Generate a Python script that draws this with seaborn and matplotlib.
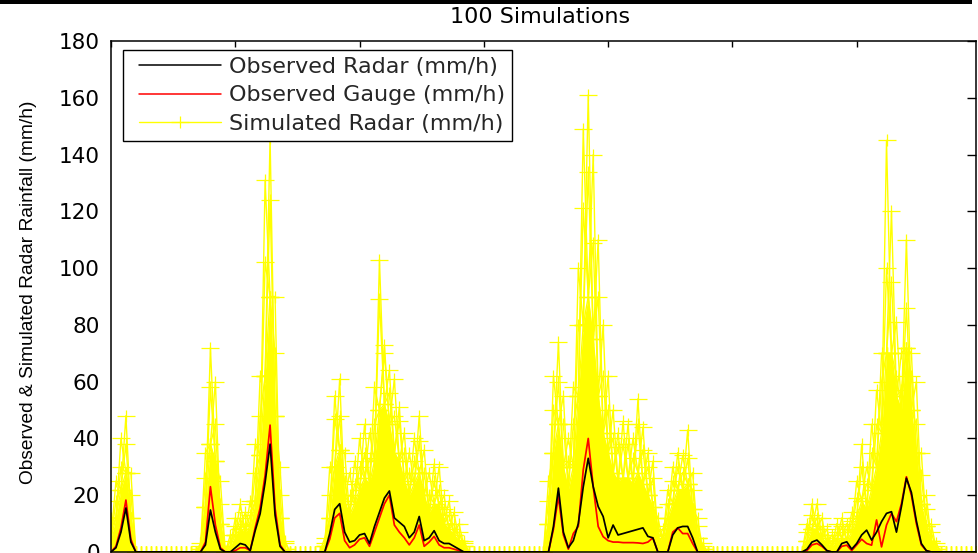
import numpy as np
import pandas as pd
import matplotlib
matplotlib.use("Agg")
import matplotlib.pyplot as plt
from matplotlib.path import Path
from matplotlib.lines import Line2D
from matplotlib.patches import Rectangle
from matplotlib.legend_handler import HandlerLine2D
import seaborn as sns

# ---------------------------------------------------------------- data
n_hours = 175
hours = np.arange(n_hours)

# first hour of each rainy period; every list below holds one segment per period
event_start = [0, 18, 24, 43, 88, 139]

radar_obs = [
    [0, 1.5, 7, 15.5, 3.5, 0],
    [0, 2.5, 14.8, 7, 1, 0],
    [0, 1.5, 3, 2.5, 0.5, 7.5, 13.5, 24.5, 38, 13, 2, 0],
    [0, 6.5, 15, 17, 7, 3.5, 4, 6, 6.5, 3, 9, 14, 19, 21.5, 12, 10.5, 9, 5, 7,
     12.5, 4, 5, 7.5, 4, 3, 3, 2, 1, 0],
    [0, 9, 22.5, 7, 1.5, 4, 10, 23, 33, 23, 16, 12.5, 5, 9.5, 6, 6.5, 7, 7.5, 8,
     8.5, 5.5, 5, 0, 0, 0, 6, 8.5, 9, 9, 5, 0, 0],
    [0, 1, 3.5, 4.2, 2.5, 0.5, 0, 0, 3, 3.6, 1, 3, 6, 7.7, 4.2, 7, 10.7, 13.6,
     14.2, 7, 16, 26, 21, 11, 3, 0.5, 0, 0],
]

gauge_obs = [
    [0, 2, 8.5, 18.3, 4.5, 0],
    [0, 3.5, 23, 9.5, 1.5, 0],
    [0, 0.5, 1.5, 1.5, 0.5, 8.5, 15.5, 27, 44.7, 15.5, 2.5, 0],
    [0, 4.5, 12, 13.6, 4, 1.5, 2.5, 4.5, 5, 2, 7, 12, 17, 20, 9.5, 7, 5, 2.5, 5,
     9.5, 2, 3.5, 5.5, 2.5, 1.5, 1.5, 1, 0.5, 0],
    [0, 8, 19.5, 6, 1, 6.5, 9, 29, 40, 23, 9, 5.4, 4, 3.5, 3.5, 3.3, 3.3, 3.3,
     3.2, 3, 3.5, 5, 0, 0, 0, 7, 8.5, 6.5, 6.5, 3, 0, 0],
    [0, 0.5, 2.5, 3, 2, 0.5, 0, 0, 2, 2.4, 0.5, 2.5, 4.5, 3, 2.4, 11.3, 1.8, 9.5,
     13.6, 10.7, 17, 26.5, 20, 10, 2.5, 0.5, 0, 0],
]

# simulated radar ensemble: highest, second tier and bulk level per hour
sim_peak = [
    [12, 25, 40, 48, 28, 0],
    [3, 35, 72, 60, 25, 0],
    [6, 12, 17, 14, 18, 38, 62, 131, 146, 90, 30, 4],
    [5, 30, 55, 61, 35, 28, 32, 40, 45, 42, 58, 103, 73, 64, 61, 51, 42, 35, 40,
     48, 36, 28, 31, 30, 20, 18, 14, 10, 4],
    [25, 62, 74, 55, 40, 58, 100, 149, 161, 140, 110, 80, 62, 50, 42, 46, 45, 40,
     54, 44, 35, 32, 12, 8, 22, 30, 35, 34, 43, 28, 12, 3],
    [0, 10, 17, 17, 12, 8, 6, 10, 12, 10, 14, 25, 38, 30, 45, 57, 70, 145, 120,
     81, 70, 110, 70, 60, 35, 20, 10, 3],
]

sim_high = [
    [8, 18, 30, 38, 20, 0],
    [2, 26, 58, 45, 17, 0],
    [4, 9, 12, 10, 13, 28, 48, 102, 124, 70, 20, 3],
    [3, 20, 47, 48, 25, 20, 24, 30, 35, 33, 45, 89, 70, 56, 48, 46, 35, 28, 32,
     39, 28, 20, 25, 22, 15, 13, 10, 7, 3],
    [18, 50, 60, 45, 32, 45, 80, 121, 134, 109, 90, 62, 50, 40, 37, 38, 38, 33,
     45, 36, 30, 26, 9, 6, 17, 25, 30, 28, 33, 22, 9, 2],
    [0, 7, 13, 12, 9, 6, 4, 7, 9, 8, 11, 19, 30, 24, 35, 45, 60, 100, 95, 62, 57,
     86, 62, 45, 27, 15, 7, 2],
]

sim_core = [
    [5, 12, 22, 28, 12, 0],
    [1, 16, 38, 32, 10, 0],
    [2, 6, 8, 7, 9, 18, 34, 62, 90, 48, 12, 1],
    [2, 12, 30, 36, 18, 13, 17, 22, 26, 24, 32, 50, 52, 45, 35, 32, 25, 20, 24,
     28, 20, 14, 17, 16, 10, 8, 6, 4, 2],
    [10, 35, 45, 30, 22, 30, 55, 80, 90, 75, 55, 42, 35, 28, 25, 26, 26, 24, 28,
     24, 20, 16, 5, 4, 12, 17, 22, 22, 24, 15, 5, 1],
    [0, 4, 8, 8, 5, 3, 2, 4, 5, 4, 7, 12, 18, 15, 22, 30, 42, 70, 70, 55, 50, 72,
     50, 35, 17, 9, 4, 1],
]

y_ticks = list(range(0, 181, 20))
x_ticks = list(range(0, 175, 25))
legend_labels = ["Observed Radar (mm/h)", "Observed Gauge (mm/h)",
                 "Simulated Radar (mm/h)"]


def hourly(segments):
    """Place the per-event segments on the full hourly axis (dry hours = 0)."""
    series = np.zeros(n_hours)
    for start, vals in zip(event_start, segments):
        series[start:start + len(vals)] = vals
    return series


radar = hourly(radar_obs)
gauge = hourly(gauge_obs)
peak = hourly(sim_peak)
high = hourly(sim_high)
core = hourly(sim_core)

# ensemble members: the peaks of alternate hours rise out of the bulk level
even = hours % 2 == 0
members = {
    "m1": np.where(even, peak, core),
    "m2": np.where(even, core, peak),
    "m3": np.where(even, high, core),
    "m4": np.where(even, core, high),
    "m5": core,
}
sims = pd.concat(
    [pd.DataFrame({"hour": hours, "rain": v, "member": k}) for k, v in members.items()],
    ignore_index=True,
)

# ---------------------------------------------------------------- style
sns.set_theme(style="white")
plt.rcParams["font.family"] = ["DejaVu Sans"]

YELLOW = "#FFFF00"
plus = Path([(-1, 0), (1, 0), (0, -0.62), (0, 0.62)],
            [Path.MOVETO, Path.LINETO, Path.MOVETO, Path.LINETO])

W, H = 979, 553
fig = plt.figure(figsize=(W / 100, H / 100), dpi=100)
fig.patch.set_facecolor("white")
ax = fig.add_axes([111 / W, 1 / H, 865 / W, 511 / H])
ax.set_facecolor("white")

# simulated radar rainfall
ax.fill_between(hours, 0, core, color=YELLOW, lw=0, zorder=1.5)
sns.lineplot(data=sims, x="hour", y="rain", units="member", estimator=None,
             sort=False, color=YELLOW, lw=1.0, marker=plus, markersize=13,
             markeredgewidth=0.9, markeredgecolor=YELLOW, ax=ax, legend=False,
             zorder=2)

# observations
sns.lineplot(x=hours, y=gauge, color="#FF0000", lw=1.25, ax=ax, zorder=3)
sns.lineplot(x=hours, y=radar, color="black", lw=1.25, ax=ax, zorder=4)

ax.set_xlim(0, 174)
ax.set_ylim(0, 180)
ax.set_xticks(x_ticks)
ax.set_yticks(y_ticks)
ax.set_xlabel("")
ax.set_ylabel("")
for s in ax.spines.values():
    s.set_visible(True)
    s.set_color("black")
    s.set_linewidth(1.1)
    s.set_zorder(6)
ax.tick_params(axis="both", direction="in", top=True, right=True,
               color="black", width=1.0, labelcolor="black")
ax.tick_params(axis="x", length=4.5, labelbottom=False)
ax.tick_params(axis="y", length=6.5, labelsize=15.5, pad=8)

fig.text(540 / W, 1 - 17 / H, "100 Simulations", ha="center", va="center",
         fontsize=16, color="black")
fig.text(29 / W, 1 - 292 / H, "Observed & Simulated Radar Rainfall (mm/h)",
         rotation=90, ha="center", va="center", fontsize=13.8,
         family=["Liberation Sans", "DejaVu Sans"], color="black")

# window edge along the top
fig.add_artist(Rectangle((0, 1 - 4 / H), 972 / W, 4 / H,
                         transform=fig.transFigure, color="black", lw=0))

handles = [
    Line2D([], [], color="black", lw=1.1),
    Line2D([], [], color="#FF0000", lw=1.1),
    Line2D([], [], color=YELLOW, lw=1.0, marker=plus, markersize=13,
           markeredgewidth=0.9, markeredgecolor=YELLOW),
]
leg = ax.legend(handles, legend_labels, loc="upper left",
                bbox_to_anchor=(123 / W, 1 - 50 / H), bbox_transform=fig.transFigure,
                borderaxespad=0, frameon=True, fancybox=False, shadow=False,
                edgecolor="black", framealpha=1, fontsize=16, numpoints=1,
                handlelength=4.07, handletextpad=0.36, borderpad=0.32,
                labelspacing=0.37, handler_map={Line2D: HandlerLine2D(xpad=0.42)})
leg.get_frame().set_linewidth(1.0)
leg.set_zorder(10)

fig.savefig("out.png", dpi=100, facecolor="white")
